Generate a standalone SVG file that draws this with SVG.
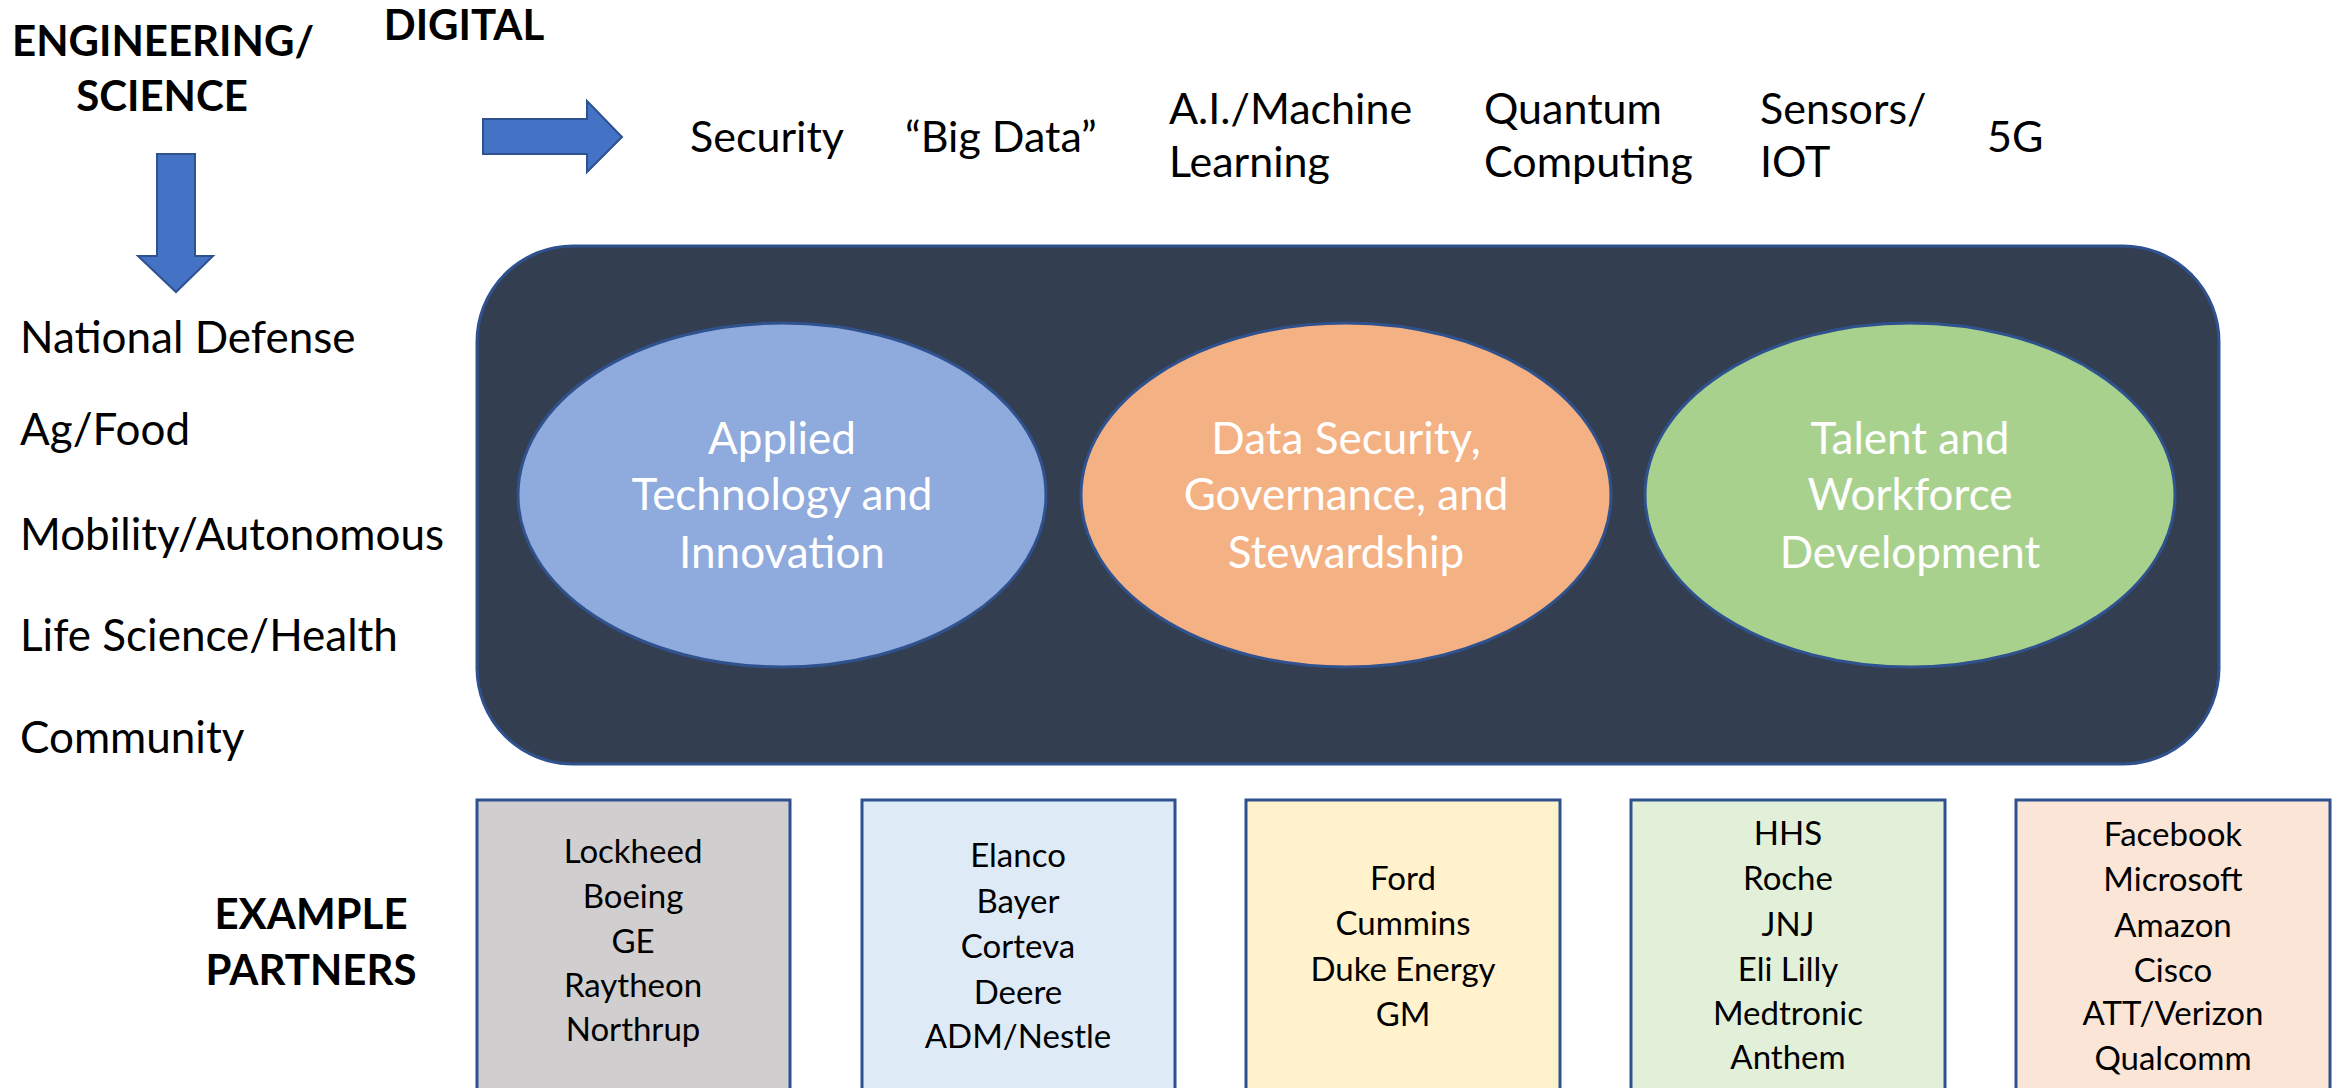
<svg xmlns="http://www.w3.org/2000/svg" width="2338" height="1088" viewBox="0 0 2338 1088">
  <style>
    text { font-family: Lato, "Open Sans", "Liberation Sans", sans-serif; fill: #000; }
    .head { font-weight: bold; font-size: 42px; }
    .lbl { font-size: 43px; }
    .sector { font-size: 44px; }
    .mid { text-anchor: middle; }
    .pillar { font-size: 44px; fill: #fff; text-anchor: middle; }
    .part { font-size: 33px; text-anchor: middle; }
    .arrow { fill: #4472C4; stroke: #2F528F; stroke-width: 2; }
    .oval { stroke: #2F528F; stroke-width: 3; }
    .box { stroke: #2F528F; stroke-width: 3; }
  </style>

  <rect width="2338" height="1088" fill="#fff"/>

  <!-- headings -->
  <g id="heading-engineering">
    <text class="head mid" x="163" y="56">ENGINEERING/</text>
    <text class="head mid" x="162" y="111">SCIENCE</text>
  </g>
  <g id="heading-digital">
    <text class="head mid" x="464" y="40">DIGITAL</text>
  </g>
  <g id="heading-partners">
    <text class="head mid" x="311" y="929">EXAMPLE</text>
    <text class="head mid" x="311" y="985">PARTNERS</text>
  </g>

  <!-- block arrows -->
  <g id="connectors">
    <path class="arrow" d="M483,119 H587 V101 L622,137 L587,172 V154 H483 Z"/>
    <path class="arrow" d="M157,154 H195 V256 H213 L176,292 L138,256 H157 Z"/>
  </g>

  <!-- digital technologies -->
  <g id="digital-topics">
    <text class="lbl" x="690" y="152">Security</text>
    <text class="lbl" x="905" y="152">“Big Data”</text>
    <text class="lbl" x="1169" y="124">A.I./Machine</text>
    <text class="lbl" x="1169" y="177">Learning</text>
    <text class="lbl" x="1484" y="124">Quantum</text>
    <text class="lbl" x="1484" y="177">Computing</text>
    <text class="lbl" x="1760" y="124">Sensors/</text>
    <text class="lbl" x="1760" y="177">IOT</text>
    <text class="lbl" x="1987" y="152">5G</text>
  </g>

  <!-- application sectors -->
  <g id="sectors">
    <text class="sector" x="20" y="353">National Defense</text>
    <text class="sector" x="20" y="445">Ag/Food</text>
    <text class="sector" x="20" y="550">Mobility/Autonomous</text>
    <text class="sector" x="20" y="651">Life Science/Health</text>
    <text class="sector" x="20" y="753">Community</text>
  </g>

  <!-- central panel -->
  <g id="core-panel">
    <rect x="477" y="246" width="1742" height="518" rx="96" ry="96" fill="#333F50" stroke="#2F528F" stroke-width="3"/>
  </g>

  <g id="pillar-applied-technology">
    <ellipse class="oval" cx="782" cy="495" rx="264" ry="172" fill="#8FAADC"/>
    <text class="pillar" x="782" y="454">Applied</text>
    <text class="pillar" x="782" y="510">Technology and</text>
    <text class="pillar" x="782" y="568">Innovation</text>
  </g>
  <g id="pillar-data-security">
    <ellipse class="oval" cx="1346" cy="495" rx="265" ry="172" fill="#F4B183"/>
    <text class="pillar" x="1346" y="454">Data Security,</text>
    <text class="pillar" x="1346" y="510">Governance, and</text>
    <text class="pillar" x="1346" y="568">Stewardship</text>
  </g>
  <g id="pillar-talent">
    <ellipse class="oval" cx="1910" cy="495" rx="265" ry="172" fill="#A9D18E"/>
    <text class="pillar" x="1910" y="454">Talent and</text>
    <text class="pillar" x="1910" y="510">Workforce</text>
    <text class="pillar" x="1910" y="568">Development</text>
  </g>

  <!-- partner boxes -->
  <g id="partners-defense">
    <rect class="box" x="477" y="800" width="313" height="300" fill="#D0CECE"/>
    <text class="part" x="633" y="863">Lockheed</text>
    <text class="part" x="633" y="908">Boeing</text>
    <text class="part" x="633" y="953">GE</text>
    <text class="part" x="633" y="997">Raytheon</text>
    <text class="part" x="633" y="1041">Northrup</text>
  </g>
  <g id="partners-ag">
    <rect class="box" x="862" y="800" width="313" height="300" fill="#DEEBF7"/>
    <text class="part" x="1018" y="867">Elanco</text>
    <text class="part" x="1018" y="913">Bayer</text>
    <text class="part" x="1018" y="958">Corteva</text>
    <text class="part" x="1018" y="1004">Deere</text>
    <text class="part" x="1018" y="1048">ADM/Nestle</text>
  </g>
  <g id="partners-mobility">
    <rect class="box" x="1246" y="800" width="314" height="300" fill="#FFF2CC"/>
    <text class="part" x="1403" y="890">Ford</text>
    <text class="part" x="1403" y="935">Cummins</text>
    <text class="part" x="1403" y="981">Duke Energy</text>
    <text class="part" x="1403" y="1026">GM</text>
  </g>
  <g id="partners-health">
    <rect class="box" x="1631" y="800" width="314" height="300" fill="#E2F0D9"/>
    <text class="part" x="1788" y="845">HHS</text>
    <text class="part" x="1788" y="890">Roche</text>
    <text class="part" x="1788" y="936">JNJ</text>
    <text class="part" x="1788" y="981">Eli Lilly</text>
    <text class="part" x="1788" y="1025">Medtronic</text>
    <text class="part" x="1788" y="1069">Anthem</text>
  </g>
  <g id="partners-tech">
    <rect class="box" x="2016" y="800" width="314" height="300" fill="#FBE5D6"/>
    <text class="part" x="2173" y="846">Facebook</text>
    <text class="part" x="2173" y="891">Microsoft</text>
    <text class="part" x="2173" y="937">Amazon</text>
    <text class="part" x="2173" y="982">Cisco</text>
    <text class="part" x="2173" y="1025">ATT/Verizon</text>
    <text class="part" x="2173" y="1070">Qualcomm</text>
  </g>
</svg>
